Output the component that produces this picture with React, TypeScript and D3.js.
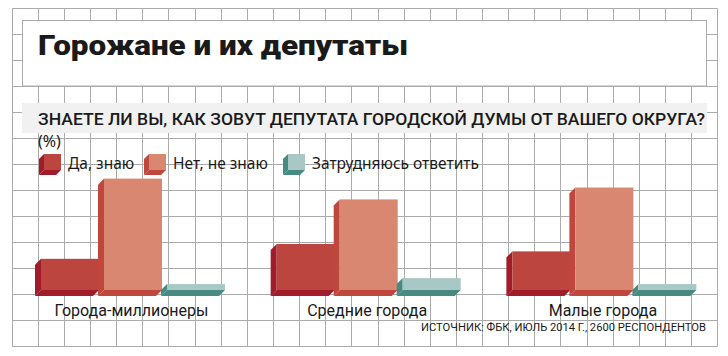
import React from "react";
import * as d3 from "d3";

const title = "Горожане и их депутаты";
const question = "ЗНАЕТЕ ЛИ ВЫ, КАК ЗОВУТ ДЕПУТАТА ГОРОДСКОЙ ДУМЫ ОТ ВАШЕГО ОКРУГА?";
const unitLabel = "(%)";
const source = "ИСТОЧНИК: ФБК, ИЮЛЬ 2014 Г., 2600 РЕСПОНДЕНТОВ";

const categories = ["Города-миллионеры", "Средние города", "Малые города"];
const seriesNames = ["Да, знаю", "Нет, не знаю", "Затрудняюсь ответить"];
const yesValues = [21, 31, 26];
const noValues = [75, 61, 69];
const hardValues = [4, 8, 4];
const seriesValues = [yesValues, noValues, hardValues];

const frontColors = ["#bc463f", "#da8771", "#a8c8c5"];
const darkColors = ["#a11c2b", "#c0473e", "#468a82"];

const W = 728;
const H = 356;
const GRID = "#ababab";
const FONT_ROUND = "'Noto Sans', 'Open Sans', sans-serif";
const FONT_COND = "Roboto, 'Liberation Sans', sans-serif";

function Box3D({ x, y, w, h, d, front, dark }: any) {
  const side = `M${x},${y} L${x - d},${y + d} L${x - d},${y + h + d} L${x},${y + h} Z`;
  const bottom = `M${x},${y + h} L${x + w},${y + h} L${x + w - d},${y + h + d} L${x - d},${y + h + d} Z`;
  return (
    <g>
      <path d={side} fill={dark} />
      <path d={bottom} fill={dark} />
      <rect x={x} y={y} width={w} height={h} fill={front} />
    </g>
  );
}

export default function App() {
  const gx0 = 11.7;
  const gStep = 26.13;
  const xLines = d3.range(28).map((i) => Math.round(gx0 + i * gStep) + 0.5);
  const yLines = d3.range(14).map((i) => 8 + i * 26 + 0.5);

  const depth = 6;
  const x0 = d3.scaleBand<string>().domain(categories).range([35, 695.4]).paddingInner(0.198).paddingOuter(0);
  const x1 = d3.scaleBand<string>().domain(seriesNames).range([0, x0.bandwidth()]).padding(0);
  const y = d3.scaleLinear().domain([0, 100]).range([290, 290 - 148.5]);

  const legendX = [44, 149, 288];
  const legendTextX = [68, 173, 312];

  return (
    <svg width={W} height={H} style={{ position: "absolute", left: 0, top: 0 }}>
      <rect width={W} height={H} fill="#fff" />
      {/* grid */}
      <g stroke={GRID} strokeWidth={1}>
        {xLines.map((x, i) => (
          <line key={"v" + i} x1={x} x2={x} y1={yLines[0]} y2={yLines[yLines.length - 1]} />
        ))}
        {yLines.map((yy, i) => (
          <line key={"h" + i} x1={xLines[0]} x2={xLines[xLines.length - 1]} y1={yy} y2={yy} />
        ))}
      </g>
      {/* title box */}
      <rect x={22.5} y={20.5} width={684} height={65.5} fill="#fff" stroke={GRID} strokeWidth={1} />
      <text x={38} y={55} fontFamily={FONT_COND} fontWeight={900} fontSize={27} fill="#1a1a1a"
        textLength={370} lengthAdjust="spacingAndGlyphs">{title}</text>
      {/* question band */}
      <rect x={22} y={103} width={685} height={30} fill="#f1f1f1" />
      <text x={38} y={125} fontFamily={FONT_COND} fontWeight={500} fontSize={17} fill="#1a1a1a"
        textLength={667} lengthAdjust="spacingAndGlyphs">{question}</text>
      <text x={38} y={146.5} fontFamily={FONT_ROUND} fontSize={16} fill="#1a1a1a">{unitLabel}</text>
      {/* legend */}
      {seriesNames.map((s, i) => (
        <g key={s}>
          <Box3D x={legendX[i]} y={154} w={17} h={16} d={5} front={frontColors[i]} dark={darkColors[i]} />
          <text x={legendTextX[i]} y={169} fontFamily={FONT_ROUND} fontSize={15.5} fill="#1a1a1a">{s}</text>
        </g>
      ))}
      {/* bars */}
      {categories.map((c, ci) => (
        <g key={c}>
          {seriesNames.map((s, si) => {
            const v = seriesValues[si][ci];
            const bx = (x0(c) as number) + (x1(s) as number) + depth;
            return (
              <Box3D key={s} x={bx} y={y(v)} w={x1.bandwidth() - depth + 1} h={y(0) - y(v)} d={depth}
                front={frontColors[si]} dark={darkColors[si]} />
            );
          })}
          <text x={(x0(c) as number) + x0.bandwidth() / 2 + 2} y={316} textAnchor="middle"
            fontFamily={FONT_COND} fontSize={16} fill="#1a1a1a">{c}</text>
        </g>
      ))}
      <text x={421} y={331} fontFamily={FONT_COND} fontSize={11.5} fill="#1a1a1a"
        textLength={285} lengthAdjust="spacingAndGlyphs">{source}</text>
    </svg>
  );
}
